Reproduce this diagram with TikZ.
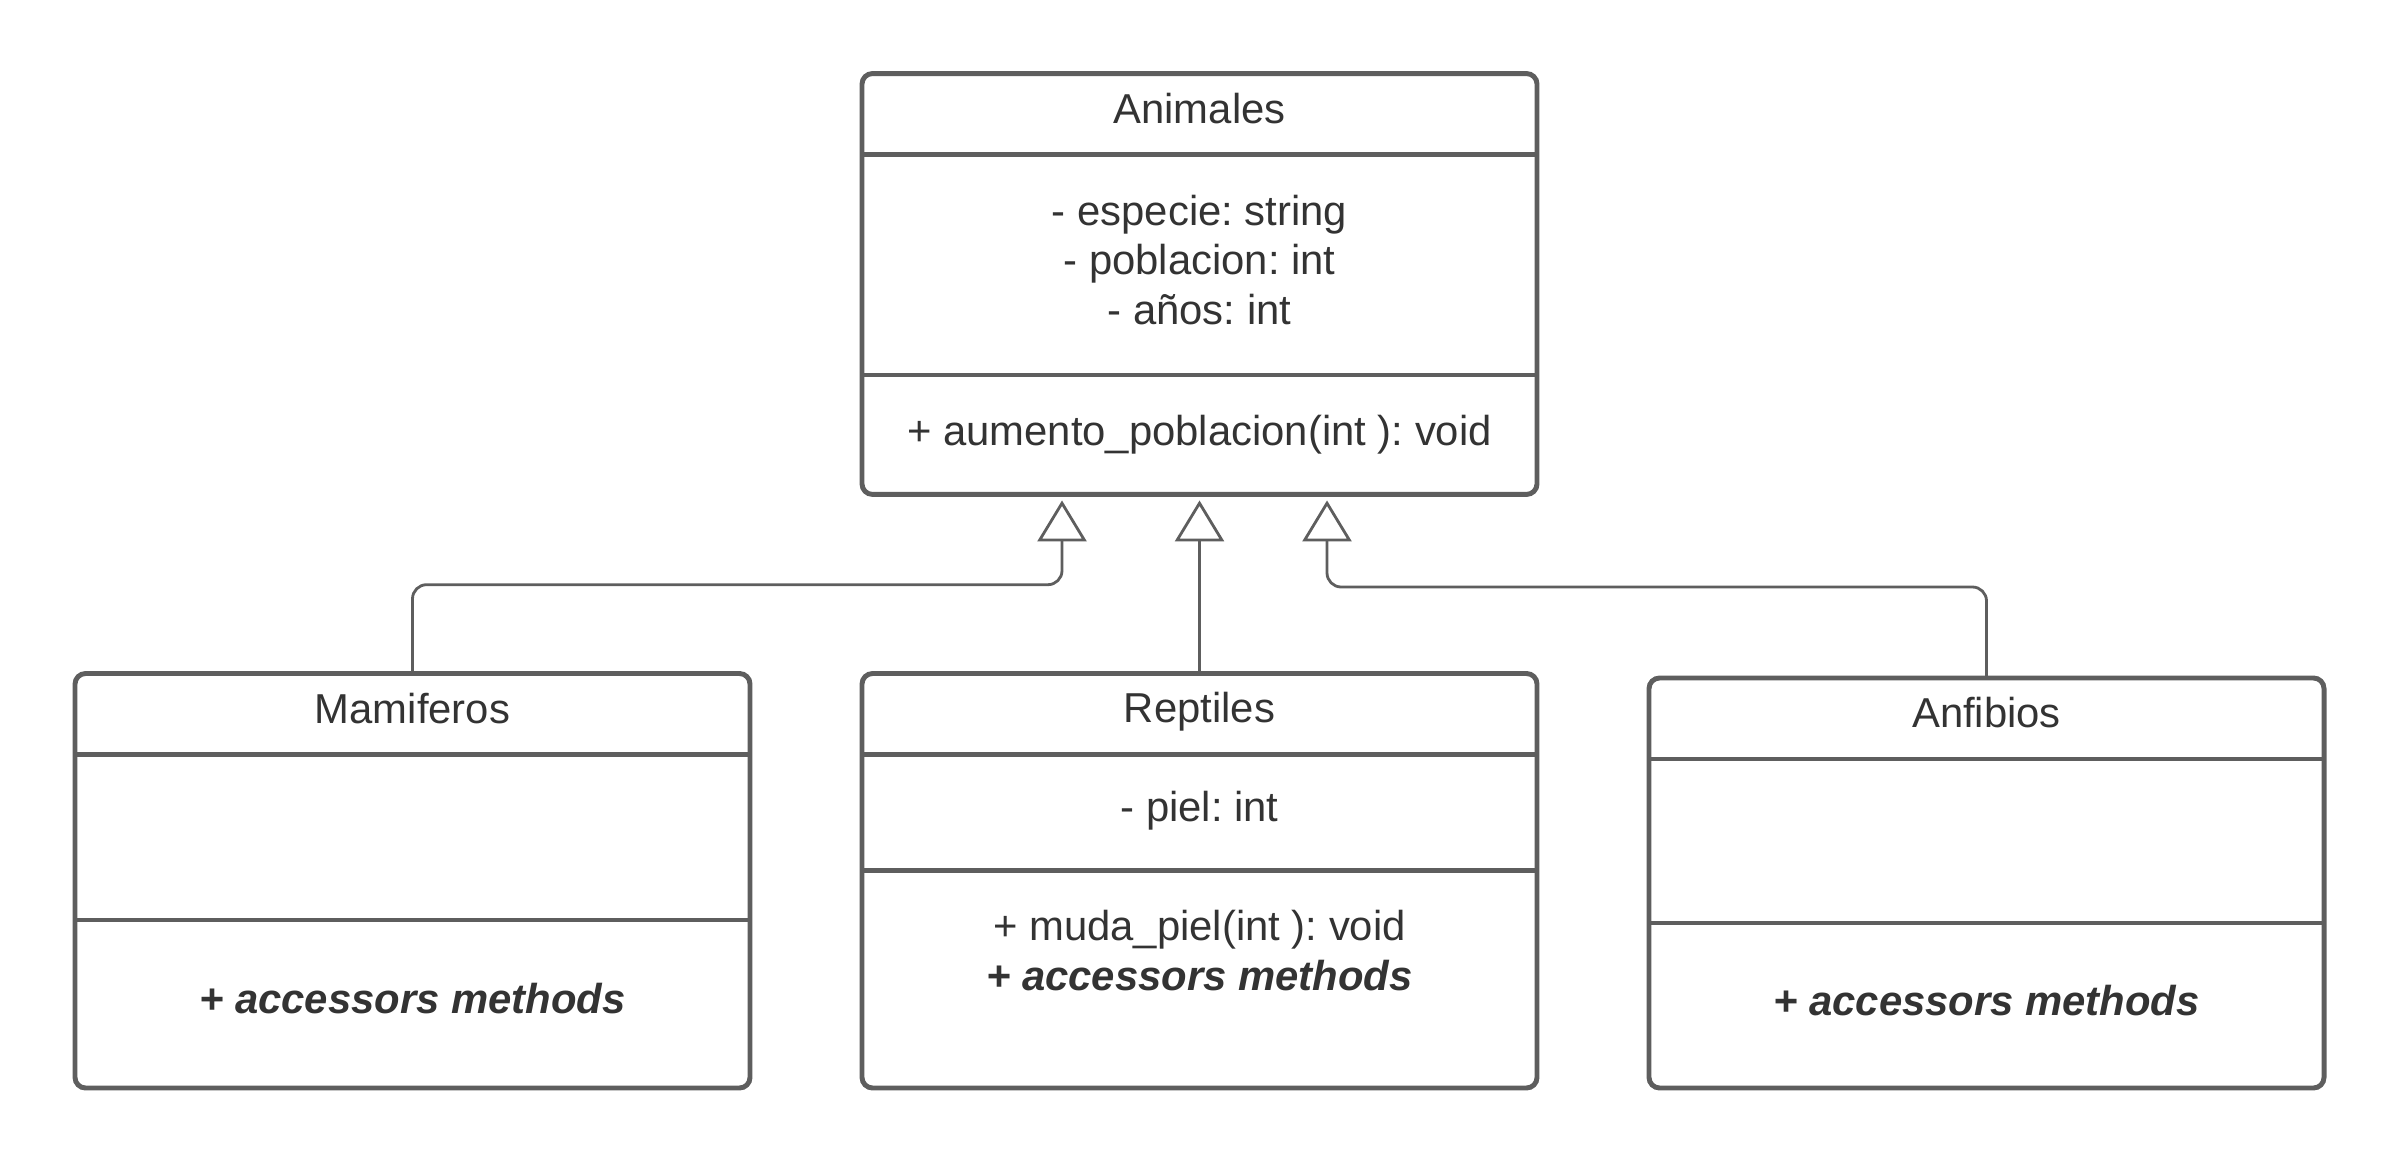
\documentclass[tikz,border=0pt]{standalone}
\usepackage{fontspec}
\setmainfont{Liberation Sans}
\usetikzlibrary{arrows.meta,calc}
\definecolor{borde}{HTML}{5E5E5E}
\definecolor{letra}{HTML}{333333}
\frenchspacing

\begin{document}
\begin{tikzpicture}
[clase/.style={draw=borde,line width=1.4pt,rounded corners=3pt,fill=white,minimum width=6.75cm,inner sep=0pt,outer sep=0pt},
texto/.style={text=letra,inner sep=0pt,align=center,font=\fontsize{11.9}{14.2}\selectfont},
division/.style={draw=borde,line width=1.4pt},
herencia/.style={draw=borde,line width=0.8pt,-{Triangle[open,length=0.41cm,width=0.49cm]}}]
\useasboundingbox (0,0) rectangle (24,11.63);
\node[clase,minimum height=4.209cm] (animales) at (11.995,8.79) {};
\node[clase,minimum height=4.145cm] (mamiferos) at (4.125,2.8225) {};
\node[clase,minimum height=4.145cm] (reptiles) at (11.995,2.8225) {};
\node[clase,minimum height=4.1cm] (anfibios) at (19.865,2.8) {};
\foreach \n/\y in {animales/10.084,animales/7.88,mamiferos/4.084,mamiferos/2.43,reptiles/4.084,reptiles/2.921,anfibios/4.04,anfibios/2.40}
\draw[division] (\n.west |- 0,\y) -- (\n.east |- 0,\y);
\node[texto] (tanimales) at (11.995,10.543) {Animales};
\node[texto] (aanimales) at (11.995,9.03) {- especie: string\\- poblacion: int\\- años: int};
\node[texto] (manimales) at (11.995,7.285) {+ aumento\_poblacion(int ): void};
\node[texto] (tmamiferos) at (4.125,4.543) {Mamiferos};
\node[texto] (mmamiferos) at (4.125,1.64) {\textbf{\textit{+ accessors methods}}};
\node[texto] (treptiles) at (11.995,4.51) {Reptiles};
\node[texto] (areptiles) at (11.995,3.52) {- piel: int};
\node[texto] (mreptiles) at (11.995,2.125) {+ muda\_piel(int ): void\\\textbf{\textit{+ accessors methods}}};
\node[texto] (tanfibios) at (19.865,4.50) {Anfibios};
\node[texto] (manfibios) at (19.865,1.625) {\textbf{\textit{+ accessors methods}}};
\coordinate (p1) at ($(animales.south)+(-1.375,-0.06)$);
\coordinate (p2) at ($(animales.south)+(0,-0.06)$);
\coordinate (p3) at ($(animales.south)+(1.275,-0.06)$);
\draw[herencia,rounded corners=4pt] (mamiferos.north) -- ++(0,0.888) -| (p1);
\draw[herencia] (reptiles.north) -- (p2);
\draw[herencia,rounded corners=4pt] (anfibios.north) -- ++(0,0.91) -| (p3);
\end{tikzpicture}
\end{document}
